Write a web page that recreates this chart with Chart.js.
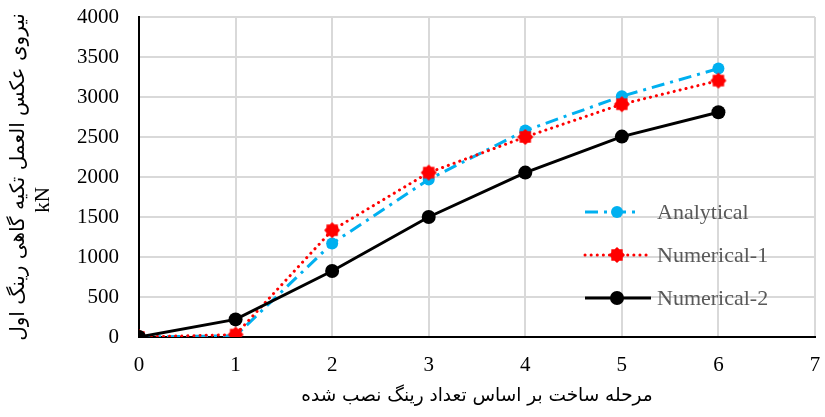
<!DOCTYPE html>
<html>
<head>
<meta charset="utf-8">
<script src="https://cdn.jsdelivr.net/npm/chart.js@4/dist/chart.umd.min.js"></script>
<style>
  html, body { margin: 0; padding: 0; background: #fff; }
  #wrap { width: 825px; height: 417px; position: relative; }
</style>
</head>
<body>
<div id="wrap"><canvas id="c" width="825" height="417"></canvas></div>
<script>
// Construction stage (number of installed rings)
const stages = [0, 1, 2, 3, 4, 5, 6];
// Support reaction of the first ring, kN
const analytical = [0, 15, 1170, 1970, 2580, 3010, 3355];
const numerical1 = [0, 30, 1335, 2055, 2500, 2910, 3205];
const numerical2 = [0, 220, 825, 1500, 2055, 2505, 2810];
const seriesNames = ['Analytical', 'Numerical-1', 'Numerical-2'];
const yTitle = 'نیروی عکس العمل تکیه گاهی رینگ اول';
const yUnit = 'kN';
const xTitle = 'مرحله ساخت بر اساس تعداد رینگ نصب شده';

const toPoints = vals => stages.map((s, i) => ({ x: s, y: vals[i] }));

// Small "gear" marker used for the Numerical-1 series
function gearMarker(color, r) {
  const c = document.createElement('canvas');
  const s = Math.ceil(r * 2 + 2);
  c.width = s; c.height = s;
  const g = c.getContext('2d');
  g.fillStyle = color;
  g.beginPath();
  const n = 8;
  for (let i = 0; i < n * 2; i++) {
    const a = (Math.PI * i) / n;
    const rr = i % 2 === 0 ? r : r * 0.78;
    g.lineTo(s / 2 + rr * Math.cos(a), s / 2 + rr * Math.sin(a));
  }
  g.closePath();
  g.fill();
  return c;
}
const redGear = gearMarker('#ff0000', 8);

// Legend drawn inside the plot area, on the right
const innerLegend = {
  id: 'innerLegend',
  afterDraw(chart) {
    const ctx = chart.ctx;
    const rows = [
      { y: 212, x0: 585, x1: 640, ds: 0 },
      { y: 255, x0: 585, x1: 648, ds: 1 },
      { y: 298, x0: 585, x1: 651, ds: 2 }
    ];
    ctx.save();
    rows.forEach(r => {
      const ds = chart.data.datasets[r.ds];
      ctx.strokeStyle = ds.borderColor;
      ctx.lineWidth = ds.borderWidth;
      ctx.lineCap = ds.borderCapStyle || 'butt';
      ctx.setLineDash(ds.borderDash || []);
      ctx.beginPath();
      ctx.moveTo(r.x0, r.y);
      ctx.lineTo(r.x1, r.y);
      ctx.stroke();
      ctx.setLineDash([]);
      const mx = 617;
      if (ds.pointStyle instanceof HTMLCanvasElement) {
        ctx.drawImage(ds.pointStyle, mx - ds.pointStyle.width / 2, r.y - ds.pointStyle.height / 2);
      } else {
        ctx.fillStyle = ds.pointBackgroundColor;
        ctx.beginPath();
        ctx.arc(mx, r.y, ds.pointRadius, 0, Math.PI * 2);
        ctx.fill();
      }
      ctx.fillStyle = '#595959';
      ctx.font = '22px "Liberation Serif", "Times New Roman", serif';
      ctx.textBaseline = 'middle';
      ctx.textAlign = 'left';
      ctx.fillText(ds.label, 657, r.y + 1);
    });
    ctx.restore();
  }
};

// Y-axis unit line next to the rotated axis title
const unitLabel = {
  id: 'unitLabel',
  afterDraw(chart) {
    const ctx = chart.ctx;
    ctx.save();
    ctx.translate(43, 200);
    ctx.rotate(-Math.PI / 2);
    ctx.fillStyle = '#000';
    ctx.font = '21px "Liberation Serif", "Times New Roman", serif';
    ctx.textAlign = 'center';
    ctx.textBaseline = 'middle';
    ctx.fillText(yUnit, 0, 0);
    ctx.restore();
  }
};

const tickFont = { family: '"Liberation Serif", "Times New Roman", serif', size: 21 };
const plain = v => String(v);

new Chart(document.getElementById('c'), {
  type: 'line',
  data: {
    datasets: [
      {
        label: seriesNames[0],
        data: toPoints(analytical),
        borderColor: '#00b0f0',
        backgroundColor: '#00b0f0',
        pointBackgroundColor: '#00b0f0',
        pointBorderColor: '#00b0f0',
        borderWidth: 3,
        borderDash: [13, 6, 3, 6],
        pointRadius: 6,
        pointBorderWidth: 0,
        order: 2
      },
      {
        label: seriesNames[1],
        data: toPoints(numerical1),
        borderColor: '#ff0000',
        backgroundColor: '#ff0000',
        pointBackgroundColor: '#ff0000',
        borderWidth: 3,
        borderDash: [0.1, 6],
        borderCapStyle: 'round',
        pointStyle: redGear,
        pointRadius: 7,
        order: 1
      },
      {
        label: seriesNames[2],
        data: toPoints(numerical2),
        borderColor: '#000000',
        backgroundColor: '#000000',
        pointBackgroundColor: '#000000',
        pointBorderColor: '#000000',
        borderWidth: 3,
        pointRadius: 7,
        pointBorderWidth: 0,
        order: 0
      }
    ]
  },
  options: {
    responsive: false,
    animation: false,
    layout: { padding: { top: 17, right: 2, left: 0, bottom: 0 } },
    plugins: {
      legend: { display: false },
      tooltip: { enabled: false }
    },
    scales: {
      x: {
        type: 'linear',
        min: 0,
        max: 7,
        ticks: { stepSize: 1, color: '#000', font: tickFont, padding: 16, callback: plain },
        grid: { color: '#d9d9d9', lineWidth: 2, drawTicks: false },
        border: { color: '#000', width: 2 },
        title: {
          display: true,
          text: xTitle,
          color: '#000',
          font: { family: '"DejaVu Sans", sans-serif', size: 18.5 },
          padding: { top: 4, bottom: 10 }
        },
        afterFit(scale) { scale.height = 80; scale.paddingLeft = 0; scale.paddingRight = 0; }
      },
      y: {
        min: 0,
        max: 4000,
        ticks: { stepSize: 500, color: '#000', font: tickFont, padding: 20, callback: plain },
        grid: { color: '#d9d9d9', lineWidth: 2, drawTicks: false },
        border: { color: '#000', width: 2 },
        title: {
          display: true,
          text: yTitle,
          color: '#000',
          font: { family: '"DejaVu Sans", sans-serif', size: 20 },
          padding: { top: 7, bottom: 0 }
        },
        afterFit(scale) { scale.width = 139; scale.paddingTop = 0; scale.paddingBottom = 0; }
      }
    }
  },
  plugins: [innerLegend, unitLabel]
});
</script>
</body>
</html>
